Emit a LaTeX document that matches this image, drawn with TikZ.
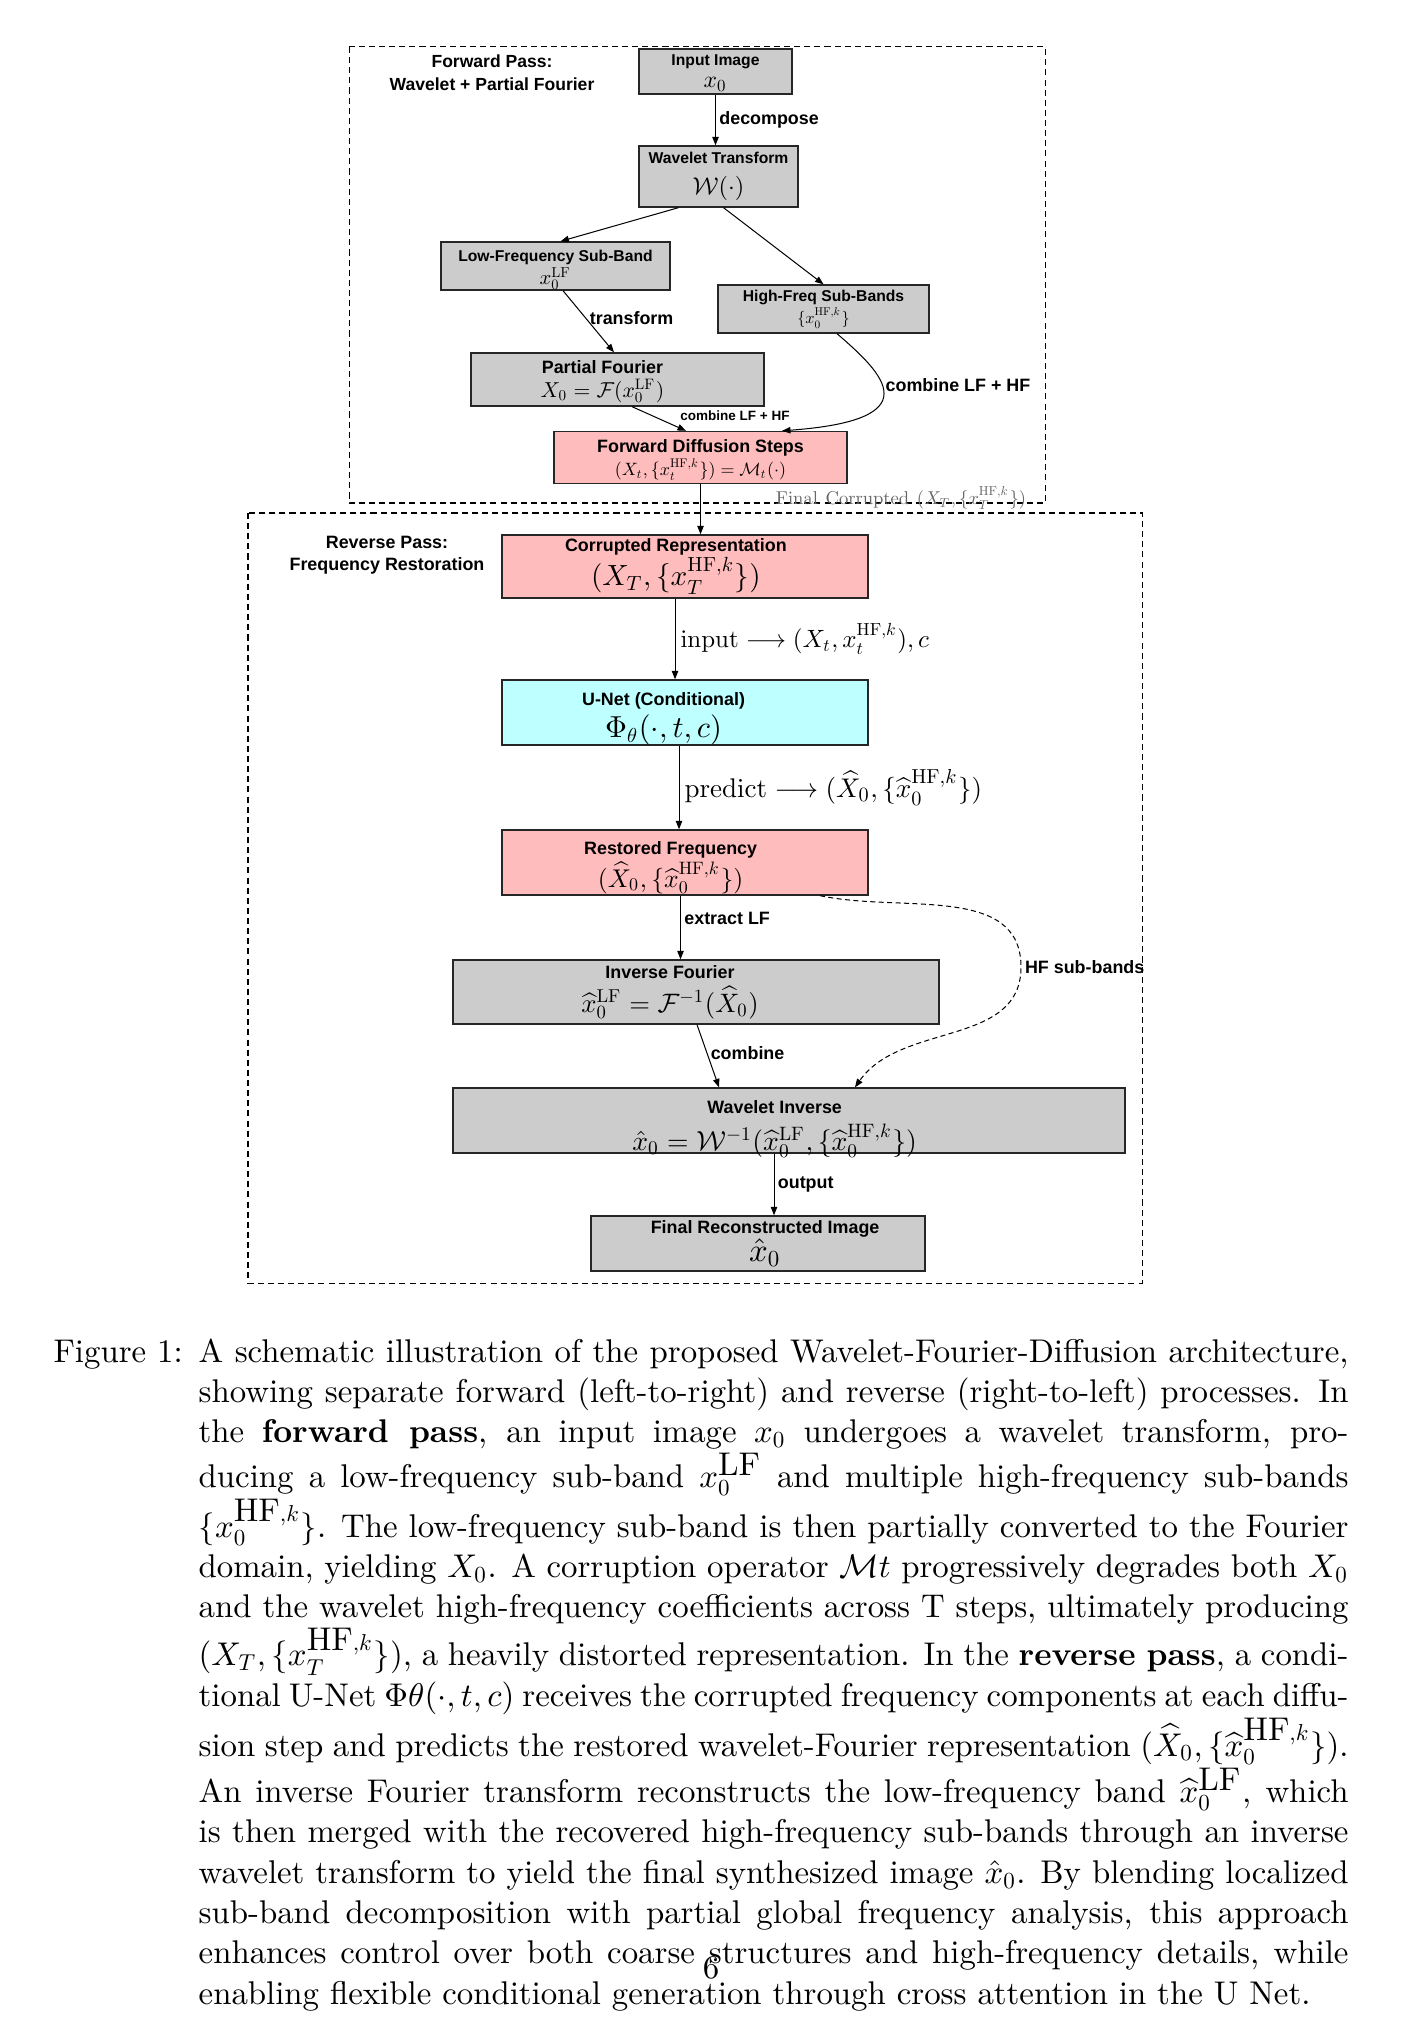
\RequirePackage{fix-cm}
\documentclass[tikz,border=0pt]{standalone}
\usepackage[no-math]{fontspec}
\newfontfamily\lsans{Liberation Sans}
\usetikzlibrary{arrows.meta,calc,positioning}
% math in the picture is set from the 10pt design, scaled
\DeclareFontShape{OT1}{cmr}{m}{n}{<->cmr10}{}
\DeclareFontShape{OML}{cmm}{m}{it}{<->cmmi10}{}
\DeclareFontShape{OMS}{cmsy}{m}{n}{<->cmsy10}{}
\DeclareFontShape{OMX}{cmex}{m}{n}{<->cmex10}{}

\definecolor{boxgray}{RGB}{204,204,204}
\definecolor{boxpink}{RGB}{255,188,188}
\definecolor{boxcyan}{RGB}{190,255,255}

\newcommand{\pxu}{0.2963pt}
\newcommand{\sz}[1]{\fontsize{#1}{#1}\selectfont}
\newcommand{\ttl}[2]{{\lsans\bfseries\sz{#1}#2}}
% box text: [kern]{title}{gap}{math}{raise}
\newcommand{\bx}[5][0pt]{\raisebox{#5}[0pt][0pt]{\begin{tabular}{@{}c@{}}#2\\[#3]#4\end{tabular}}\kern#1\relax}
\newcommand{\capl}[1]{\hbox to 340.7pt{#1}}

\tikzset{
  dims/.style 2 args={minimum width=#1*\pxu, minimum height=#2*\pxu},
  box/.style={draw=black!85, line width=0.4pt, fill=boxgray, inner sep=0pt, font=\sz{4}},
  pinkbox/.style={box, fill=boxpink},
  cyanbox/.style={box, fill=boxcyan},
  edge/.style={-{Triangle[length=2.5pt,width=1.9pt]}, line width=0.3pt},
  lbl/.style={font=\lsans\bfseries\sz{5.3}, inner sep=1pt},
  mlbl/.style={font=\sz{#1}, inner sep=1.5pt},
  pass/.style={line width=0.3pt, dash pattern=on 1.8pt off 1.2pt}
}

\begin{document}
\begin{tikzpicture}[x=\pxu, y=-\pxu]
\useasboundingbox (0,0) rectangle (1405,2042);
\fill[white] (0,0) rectangle (1405,2042);

% the two passes
\draw[pass] (349,47) rectangle (1045,503);
\draw[pass] (248,513) rectangle (1142,1283);

% forward pass
\node[lbl, align=center, font=\lsans\bfseries\fontsize{5.2}{6.9}\selectfont] (fwdlbl) at (492,73) {Forward Pass:\\Wavelet + Partial Fourier};
\node[box, dims={153}{45}] (in) at (715.5,71.5) {\bx{\ttl{4.65}{Input Image}}{2.3pt}{\sz{7}$x_0$}{-1.6pt}};
\node[box, dims={159}{61}] (wt) at (718.5,176.5) {\bx{\ttl{4.65}{Wavelet Transform}}{2.5pt}{\sz{7.2}$\mathcal{W}(\cdot)$}{-1pt}};
\node[box, dims={229}{48}] (lf) at (555.5,266) {\bx{\ttl{4.65}{Low-Frequency Sub-Band}}{0.5pt}{\sz{6.1}$x_0^{\mathrm{LF}}$}{-2.2pt}};
\node[box, dims={211}{48}] (hf) at (823.5,309) {\bx{\ttl{4.65}{High-Freq Sub-Bands}}{0.8pt}{\sz{4.8}$\{x_0^{\mathrm{HF},k}\}$}{-1pt}};
\node[box, dims={293}{53}] (pf) at (617.5,379.5) {\bx[8.9pt]{\ttl{5.3}{Partial Fourier}}{0.5pt}{\sz{6.4}$X_0=\mathcal{F}(x_0^{\mathrm{LF}})$}{-1.6pt}};
\node[pinkbox, dims={293}{52}] (fd) at (700.5,457.5) {\bx{\ttl{5.3}{Forward Diffusion Steps}}{0.5pt}{\sz{5.3}$(X_t,\{x_t^{\mathrm{HF},k}\})=\mathcal{M}_t(\cdot)$}{-1.8pt}};

\draw[edge] (in.south) -- (in.south |- wt.north) node[lbl, midway, right] {decompose};
\draw[edge] ($(wt.south)+(-40,0)$) -- ($(lf.north)+(5,0)$);
\draw[edge] ($(wt.south)+(5,0)$) -- (hf.north);
\draw[edge] ($(lf.south)+(7.5,0)$) -- ($(pf.north)+(-3.5,0)$) node[lbl, pos=0.45, right] {transform};
\draw[edge] ($(pf.south)+(14.5,0)$) -- ($(fd.north)+(-14.5,0)$);
\node[lbl, font=\lsans\bfseries\sz{4}] (cmbsmall) at (735,416) {combine LF + HF};
\draw[edge] ($(hf.south)+(13.5,0)$) .. controls (885,375) and (930,420) .. ($(fd.north)+(81.5,0)$) node[lbl, pos=0.42, right] {combine LF + HF};

% between the passes
\node[text=black!60, font=\sz{5.5}, inner sep=0pt] (fcl) at (901,498) {$\mathrm{Final\ Corrupted}\ (X_T,\{x_T^{\mathrm{HF},k}\})$};

% reverse pass
\node[lbl, align=center, font=\lsans\bfseries\fontsize{5.3}{6.5}\selectfont] (revlbl) at (387,555) {Reverse Pass:\\Frequency Restoration};
\node[pinkbox, dims={366}{63}] (cr) at (685,566.5) {\bx[5.4pt]{\ttl{5.3}{Corrupted Representation}}{0.5pt}{\sz{8.66}$(X_T,\{x_T^{\mathrm{HF},k}\})$}{-1pt}};
\node[cyanbox, dims={366}{65}] (un) at (685,712.5) {\bx[12.7pt]{\ttl{5.3}{U-Net (Conditional)}}{1.5pt}{\sz{9}$\Phi_\theta(\cdot,t,c)$}{-2.9pt}};
\node[pinkbox, dims={366}{65}] (rf) at (685,862.5) {\bx[8.5pt]{\ttl{5.3}{Restored Frequency}}{1.1pt}{\sz{7.6}$(\widehat{X}_0,\{\widehat{x}_0^{\mathrm{HF},k}\})$}{-2.5pt}};
\node[box, dims={486}{64}] (invf) at (696,992) {\bx[15.4pt]{\ttl{5.3}{Inverse Fourier}}{1.2pt}{\sz{7.9}$\widehat{x}_0^{\mathrm{LF}}=\mathcal{F}^{-1}(\widehat{X}_0)$}{-1pt}};
\node[box, dims={672}{65}] (wi) at (789,1120.5) {\bx[8.5pt]{\ttl{5.3}{Wavelet Inverse}}{1.9pt}{\sz{8.2}$\hat{x}_0=\mathcal{W}^{-1}(\widehat{x}_0^{\mathrm{LF}},\{\widehat{x}_0^{\mathrm{HF},k}\})$}{-3.5pt}};
\node[box, dims={334}{55}] (fr) at (758,1243.5) {\bx[-4.2pt]{\ttl{5.3}{Final Reconstructed Image}}{0.5pt}{\sz{9.7}$\hat{x}_0$}{-1pt}};
\coordinate (hfc) at (1021,967);
\node[lbl, anchor=west] (hflbl) at (hfc) {HF sub-bands};

\draw[edge] (fd.south) -- (fd.south |- cr.north);
\draw[edge] ($(cr.south)+(-10,0)$) -- ($(un.north)+(-10,0)$) node[mlbl=7.4, midway, right] {$\mathrm{input}\longrightarrow (X_t, x_t^{\mathrm{HF},k}), c$};
\draw[edge] ($(un.south)+(-6,0)$) -- ($(rf.north)+(-6,0)$) node[mlbl=8, midway, right] {$\mathrm{predict}\longrightarrow (\widehat{X}_0, \{\widehat{x}_0^{\mathrm{HF},k}\})$};
\draw[edge] ($(rf.south)+(-4.5,0)$) -- ($(invf.north)+(-15.5,0)$) node[lbl, pos=0.36, right] {extract LF};
\draw[edge, dash pattern=on 1.5pt off 1pt] ($(rf.south)+(135,0)$) to[out=-12,in=90] (hfc) to[out=-90,in=55] ($(wi.north)+(66,0)$);
\draw[edge] ($(invf.south)+(1,0)$) -- ($(wi.north)+(-70,0)$) node[lbl, pos=0.45, right] {combine};
\draw[edge] ($(wi.south)+(-15,0)$) -- ($(fr.north)+(16,0)$) node[lbl, midway, right] {output};

% caption
\node[anchor=north west, inner sep=0pt, text width=340.7pt, font=\fontsize{9.73}{11.94}\selectfont] (cap) at (198,1338) {%
\spaceskip=0pt \xspaceskip=0pt
\capl{\llap{\makebox[43pt][l]{Figure 1:}}A schematic illustration of the proposed Wavelet-Fourier-Diffusion architecture,}
\capl{showing separate forward (left-to-right) and reverse (right-to-left) processes. In}
\capl{the \textbf{forward pass}, an input image $x_0$ undergoes a wavelet transform, pro-}
\capl{ducing a low-frequency sub-band $x_0^{\mbox{LF}}$ and multiple high-frequency sub-bands}
\capl{$\{x_0^{\mbox{HF},k}\}$. The low-frequency sub-band is then partially converted to the Fourier}
\capl{domain, yielding $X_0$. A corruption operator $\mathcal{M}t$ progressively degrades both $X_0$}
\capl{and the wavelet high-frequency coefficients across T steps, ultimately producing}
\capl{$(X_T, \{x_T^{\mbox{HF},k}\})$, a heavily distorted representation. In the \textbf{reverse pass}, a condi-}
\capl{tional U-Net $\Phi\theta(\cdot,t,c)$ receives the corrupted frequency components at each diffu-}
\capl{sion step and predicts the restored wavelet-Fourier representation $(\widehat{X}_0, \{\widehat{x}_0^{\mbox{HF},k}\})$.}
\capl{An inverse Fourier transform reconstructs the low-frequency band $\widehat{x}_0^{\mbox{LF}}$, which}
\capl{is then merged with the recovered high-frequency sub-bands through an inverse}
\capl{wavelet transform to yield the final synthesized image $\hat{x}_0$. By blending localized}
\capl{sub-band decomposition with partial global frequency analysis, this approach}
\capl{enhances control over both coarse structures and high-frequency details, while}
\hbox{enabling flexible conditional generation through cross attention in the U Net.}
};
\node[font=\fontsize{9.73}{11.94}\selectfont, inner sep=0pt, anchor=base] (pgno) at (711,1978) {6};
\end{tikzpicture}
\end{document}
